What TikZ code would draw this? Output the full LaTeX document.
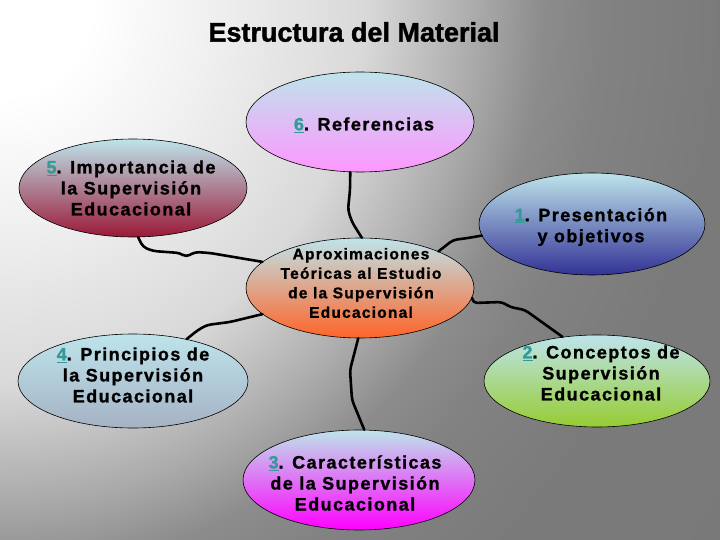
\documentclass[tikz,border=0pt]{standalone}
\usepackage{fontspec}
\setmainfont{Liberation Sans}[BoldFeatures={FakeBold=1.5}]
\newfontfamily\labfont[LetterSpace=8, BoldFeatures={FakeBold=1.2}]{Liberation Sans}
\usetikzlibrary{shapes.geometric}
\definecolor{topcyan}{RGB}{190,228,235}
\definecolor{pinkb}{RGB}{255,150,255}
\definecolor{redb}{RGB}{155,25,55}
\definecolor{blueb}{RGB}{50,50,150}
\definecolor{orangeb}{RGB}{255,100,40}
\definecolor{grayb}{RGB}{165,178,196}
\definecolor{greenb}{RGB}{150,204,50}
\definecolor{magb}{RGB}{255,0,255}
\definecolor{digit}{RGB}{51,153,153}
\newcommand{\numdig}[1]{\textcolor{digit}{\underline{#1}}}
\pgfdeclareradialshading{bgshade}{\pgfpointorigin}{color(0bp)=(white); color(6bp)=(white); color(14bp)=(black!6); color(24bp)=(black!15); color(31.5bp)=(black!34); color(35.5bp)=(black!45); color(39.5bp)=(black!49); color(47bp)=(black!52); color(100bp)=(black!54)}
\begin{document}
\begin{tikzpicture}[x=1pt,y=-1pt,
  ell/.style={ellipse, draw=black, line width=0.6pt, inner sep=0pt, top color=topcyan},
  lab/.style={font=\labfont\bfseries\fontsize{18}{21}\selectfont, align=center, inner sep=0pt},
  labc/.style={font=\labfont\bfseries\fontsize{15.5}{19.5}\selectfont, align=center, inner sep=0pt},
  conn/.style={line width=2.6pt, rounded corners=4pt, line cap=round, line join=round}]
\useasboundingbox (0,0) rectangle (720,540);
\begin{scope}
\clip (0,0) rectangle (720,540);
\node[inner sep=0pt, outer sep=0pt, xscale=15.2, yscale=16, transform shape] (bg) at (0,0) {\pgfuseshading{bgshade}};
\end{scope}
\node[font=\bfseries\fontsize{27}{30}\selectfont] (title) at (354,32) {Estructura del Material};
% ellipses
\node[ell, minimum width=228pt, minimum height=100pt, bottom color=pinkb] (n6) at (360,122) {};
\node[ell, minimum width=228pt, minimum height=98pt, bottom color=redb] (n5) at (133,188) {};
\node[ell, minimum width=226pt, minimum height=102pt, bottom color=blueb] (n1) at (592,224) {};
\node[ell, minimum width=228pt, minimum height=100pt, bottom color=orangeb] (c) at (360,288) {};
\node[ell, minimum width=230pt, minimum height=94pt, bottom color=grayb] (n4) at (133,381) {};
\node[ell, minimum width=226pt, minimum height=92pt, bottom color=greenb] (n2) at (597,381) {};
\node[ell, minimum width=232pt, minimum height=100pt, bottom color=magb] (n3) at (359,480) {};
% labels
\node[lab] (t6) at (364,125) {\numdig{6}. Referencias};
\node[lab] (t5) at (131,188) {\numdig{5}. Importancia de\\la Supervisión\\Educacional};
\node[lab] (t1) at (591,227) {\numdig{1}. Presentación\\y objetivos};
\node[labc] (tc) at (361,283) {Aproximaciones\\Teóricas al Estudio\\de la Supervisión\\Educacional};
\node[lab] (t4) at (133,375) {\numdig{4}. Principios de\\la Supervisión\\Educacional};
\node[lab] (t2) at (601,373) {\numdig{2}. Conceptos de\\Supervisión\\Educacional};
\node[lab] (t3) at (355,483) {\numdig{3}. Características\\de la Supervisión\\Educacional};
% connectors
\draw[conn] (n5.-84) -- (143,247) -- (153,251) -- (180,253) -- (186,257) -- (195,252) -- (210,253) -- (c.165);
\draw[conn] (n6.-101) -- (350,190) -- (348,210) -- (352,222) -- (c.88);
\draw[conn] (c.25) -- (453,240) -- (468,238) -- (n1.186);
\draw[conn] (c.-5) -- (473,303) -- (502,302) -- (510,307) -- (525,310) -- (n2.128);
\draw[conn] (c.195) -- (230,322) -- (207,325) -- (198,330) -- (n4.38);
\draw[conn] (c.-92) -- (350,370) -- (352,400) -- (n3.84);
\end{tikzpicture}
\end{document}
